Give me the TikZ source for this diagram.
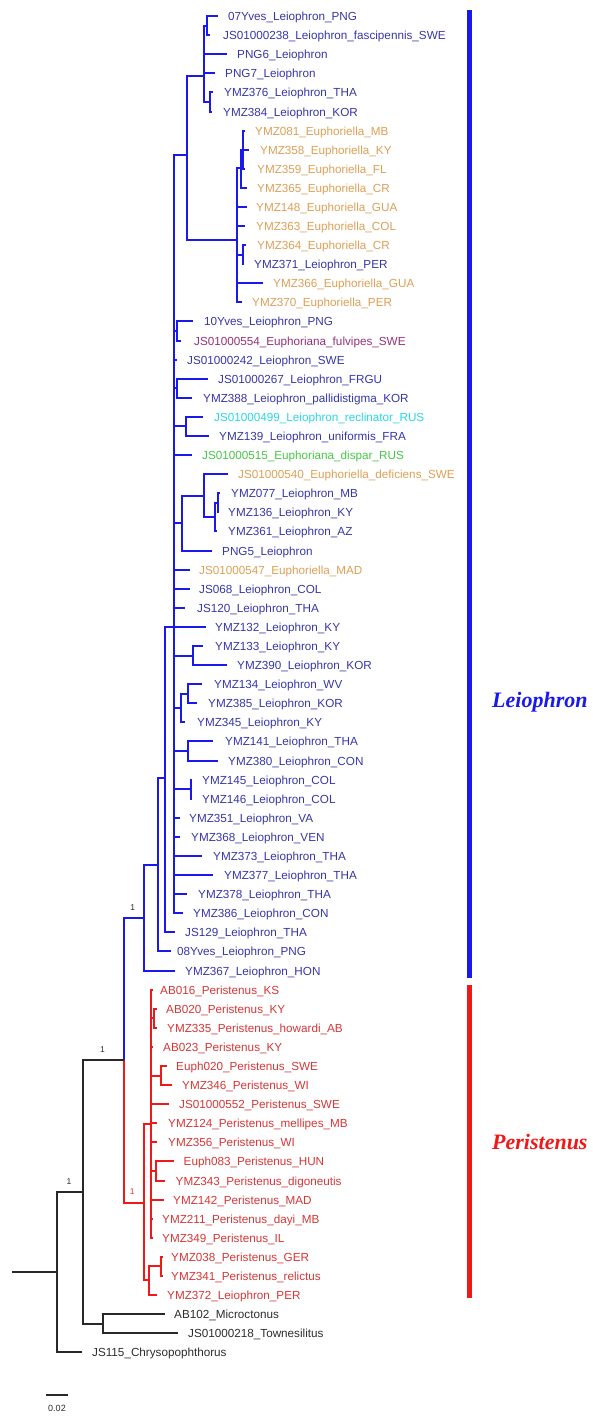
\documentclass[tikz,border=0pt]{standalone}
\usepackage{fontspec}
\setmainfont{Liberation Sans}
\newfontfamily\cladefont{Liberation Serif}
\definecolor{lb}{RGB}{25,25,235}
\definecolor{tb}{RGB}{55,55,170}
\definecolor{to}{RGB}{222,160,85}
\definecolor{tp}{RGB}{150,50,120}
\definecolor{tc}{RGB}{40,215,230}
\definecolor{tg}{RGB}{70,200,70}
\definecolor{lr}{RGB}{240,25,25}
\definecolor{tr}{RGB}{215,55,55}
\definecolor{lk}{RGB}{40,40,40}
\definecolor{tk}{RGB}{45,45,45}
\newcommand\labfont{\fontsize{11.7}{13}\selectfont}
\newcommand\tip[6]{%
  \coordinate (#1) at (#2,#3);
  \node[lab,text=#5] (l#1) at (#4,#3+4.2) {#6};}
\tikzset{
  lab/.style={anchor=base west,inner sep=0pt,font=\labfont},
  br/.style={line width=2pt},
  bb/.style={br,draw=lb},
  rb/.style={br,draw=lr},
  kb/.style={br,draw=lk},
  supp/.style={inner sep=0pt,font=\fontsize{8.5}{9}\selectfont},
  cladelab/.style={anchor=base west,inner sep=0pt,font=\cladefont\bfseries\itshape\fontsize{22}{24}\selectfont}
}
\begin{document}
\begin{tikzpicture}[x=1pt,y=-1pt]
\useasboundingbox (0,0) rectangle (592,1416);
\fill[white] (0,0) rectangle (592,1416);
% ---------- tips ----------
\tip{t1}{218}{16}{228}{tb}{07Yves\_Leiophron\_PNG}
\tip{t2}{210}{35}{223}{tb}{JS01000238\_Leiophron\_fascipennis\_SWE}
\tip{t3}{227}{54}{237}{tb}{PNG6\_Leiophron}
\tip{t4}{215}{73}{225}{tb}{PNG7\_Leiophron}
\tip{t5}{213}{92}{224}{tb}{YMZ376\_Leiophron\_THA}
\tip{t6}{212}{112}{223}{tb}{YMZ384\_Leiophron\_KOR}
\tip{t7}{245}{131}{255}{to}{YMZ081\_Euphoriella\_MB}
\tip{t8}{249}{150}{260}{to}{YMZ358\_Euphoriella\_KY}
\tip{t9}{245}{169}{257}{to}{YMZ359\_Euphoriella\_FL}
\tip{t10}{247}{188}{257}{to}{YMZ365\_Euphoriella\_CR}
\tip{t11}{247}{207}{256}{to}{YMZ148\_Euphoriella\_GUA}
\tip{t12}{245}{226}{256}{to}{YMZ363\_Euphoriella\_COL}
\tip{t13}{246}{245}{257}{to}{YMZ364\_Euphoriella\_CR}
\tip{t14}{244}{264}{254}{tb}{YMZ371\_Leiophron\_PER}
\tip{t15}{263}{283}{273}{to}{YMZ366\_Euphoriella\_GUA}
\tip{t16}{242}{302}{252}{to}{YMZ370\_Euphoriella\_PER}
\tip{t17}{193}{321}{204}{tb}{10Yves\_Leiophron\_PNG}
\tip{t18}{181}{341}{194}{tp}{JS01000554\_Euphoriana\_fulvipes\_SWE}
\tip{t19}{177}{360}{187}{tb}{JS01000242\_Leiophron\_SWE}
\tip{t20}{208}{379}{218}{tb}{JS01000267\_Leiophron\_FRGU}
\tip{t21}{192}{398}{203}{tb}{YMZ388\_Leiophron\_pallidistigma\_KOR}
\tip{t22}{203}{417}{214}{tc}{JS01000499\_Leiophron\_reclinator\_RUS}
\tip{t23}{209}{436}{219}{tb}{YMZ139\_Leiophron\_uniformis\_FRA}
\tip{t24}{192}{455}{202}{tg}{JS01000515\_Euphoriana\_dispar\_RUS}
\tip{t25}{228}{474}{238}{to}{JS01000540\_Euphoriella\_deficiens\_SWE}
\tip{t26}{220}{493}{231}{tb}{YMZ077\_Leiophron\_MB}
\tip{t27}{219}{512}{228}{tb}{YMZ136\_Leiophron\_KY}
\tip{t28}{217}{531}{228}{tb}{YMZ361\_Leiophron\_AZ}
\tip{t29}{212}{551}{222}{tb}{PNG5\_Leiophron}
\tip{t30}{190}{570}{199}{to}{JS01000547\_Euphoriella\_MAD}
\tip{t31}{190}{589}{199}{tb}{JS068\_Leiophron\_COL}
\tip{t32}{185}{608}{197}{tb}{JS120\_Leiophron\_THA}
\tip{t33}{206}{627}{215}{tb}{YMZ132\_Leiophron\_KY}
\tip{t34}{203}{646}{215}{tb}{YMZ133\_Leiophron\_KY}
\tip{t35}{227}{665}{237}{tb}{YMZ390\_Leiophron\_KOR}
\tip{t36}{202}{684}{214}{tb}{YMZ134\_Leiophron\_WV}
\tip{t37}{197}{703}{208}{tb}{YMZ385\_Leiophron\_KOR}
\tip{t38}{185}{722}{197}{tb}{YMZ345\_Leiophron\_KY}
\tip{t39}{213}{741}{225}{tb}{YMZ141\_Leiophron\_THA}
\tip{t40}{218}{761}{228}{tb}{YMZ380\_Leiophron\_CON}
\tip{t41}{192}{780}{202}{tb}{YMZ145\_Leiophron\_COL}
\tip{t42}{192}{799}{202}{tb}{YMZ146\_Leiophron\_COL}
\tip{t43}{180}{818}{189}{tb}{YMZ351\_Leiophron\_VA}
\tip{t44}{180}{837}{191}{tb}{YMZ368\_Leiophron\_VEN}
\tip{t45}{202}{856}{213}{tb}{YMZ373\_Leiophron\_THA}
\tip{t46}{213}{875}{224}{tb}{YMZ377\_Leiophron\_THA}
\tip{t47}{187}{894}{198}{tb}{YMZ378\_Leiophron\_THA}
\tip{t48}{183}{913}{193}{tb}{YMZ386\_Leiophron\_CON}
\tip{t49}{175}{932}{185}{tb}{JS129\_Leiophron\_THA}
\tip{t50}{171}{951}{177}{tb}{08Yves\_Leiophron\_PNG}
\tip{t51}{175}{971}{185}{tb}{YMZ367\_Leiophron\_HON}
\tip{t52}{153}{990}{160}{tr}{AB016\_Peristenus\_KS}
\tip{t53}{157}{1009}{166}{tr}{AB020\_Peristenus\_KY}
\tip{t54}{157}{1028}{167}{tr}{YMZ335\_Peristenus\_howardi\_AB}
\tip{t55}{153}{1047}{163}{tr}{AB023\_Peristenus\_KY}
\tip{t56}{167}{1066}{176}{tr}{Euph020\_Peristenus\_SWE}
\tip{t57}{172}{1085}{182}{tr}{YMZ346\_Peristenus\_WI}
\tip{t58}{169}{1104}{179}{tr}{JS01000552\_Peristenus\_SWE}
\tip{t59}{157}{1123}{168}{tr}{YMZ124\_Peristenus\_mellipes\_MB}
\tip{t60}{157}{1142}{168}{tr}{YMZ356\_Peristenus\_WI}
\tip{t61}{174}{1161}{183.5}{tr}{Euph083\_Peristenus\_HUN}
\tip{t62}{165}{1181}{175.5}{tr}{YMZ343\_Peristenus\_digoneutis}
\tip{t63}{164}{1200}{173}{tr}{YMZ142\_Peristenus\_MAD}
\tip{t64}{153}{1219}{162}{tr}{YMZ211\_Peristenus\_dayi\_MB}
\tip{t65}{153}{1238}{162}{tr}{YMZ349\_Peristenus\_IL}
\tip{t66}{163}{1257}{171}{tr}{YMZ038\_Peristenus\_GER}
\tip{t67}{163}{1276}{171}{tr}{YMZ341\_Peristenus\_relictus}
\tip{t68}{157}{1295}{167}{tr}{YMZ372\_Leiophron\_PER}
\tip{t69}{165}{1314}{174}{tk}{AB102\_Microctonus}
\tip{t70}{178}{1333}{188}{tk}{JS01000218\_Townesilitus}
\tip{t71}{82}{1352}{92}{tk}{JS115\_Chrysopophthorus}
% ---------- internal nodes ----------
\coordinate (N1) at (207,26);
\coordinate (N2) at (210,102);
\coordinate (T1) at (204,76);
\coordinate (E) at (187,155);
\coordinate (EU) at (237,240);
\coordinate (Ea) at (241,168);
\coordinate (Eb) at (243,150);
\coordinate (Ec) at (243,255);
\coordinate (L4) at (174,627);
\coordinate (Y1) at (177,331);
\coordinate (Y2) at (177,388);
\coordinate (Y3) at (186,426);
\coordinate (Y4) at (182,523);
\coordinate (Y5) at (204,496);
\coordinate (Y6) at (215,517);
\coordinate (Y7) at (218,503);
\coordinate (Y8) at (193,656);
\coordinate (Y9) at (181,708);
\coordinate (Y10) at (188,694);
\coordinate (Y11) at (188,751);
\coordinate (Y12) at (191,789);
\coordinate (L3) at (165,778);
\coordinate (L2) at (158,865);
\coordinate (L1) at (144,918);
\coordinate (L0) at (124,1060);
\coordinate (P) at (144,1203);
\coordinate (P1) at (151,1124);
\coordinate (Pa) at (154,1018);
\coordinate (Pb) at (161,1076);
\coordinate (Pc) at (156,1171);
\coordinate (P2) at (149,1280);
\coordinate (Pd) at (161,1266);
\coordinate (R3) at (103,1324);
\coordinate (R2) at (83,1192);
\coordinate (R1) at (57,1272);
\coordinate (root) at (12,1272);
% ---------- blue branches ----------
\foreach \a/\b in {T1/N1,N1/t1,N1/t2,T1/t3,T1/t4,T1/N2,N2/t5,N2/t6,
  E/T1,E/EU,EU/Ea,Ea/Eb,Eb/t7,Eb/t8,Eb/t9,Ea/t10,EU/t11,EU/t12,EU/Ec,Ec/t13,Ec/t14,EU/t15,EU/t16,
  L4/E,L4/Y1,L4/t19,L4/Y2,L4/Y3,L4/t24,L4/Y4,L4/t30,L4/t31,L4/t32,L4/t33,L4/Y8,L4/Y9,L4/Y11,L4/Y12,
  L4/t43,L4/t44,L4/t45,L4/t46,L4/t47,L4/t48,
  Y1/t17,Y1/t18,Y2/t20,Y2/t21,Y3/t22,Y3/t23,Y4/Y5,Y4/t29,Y5/t25,Y5/Y6,Y6/Y7,Y6/t28,Y7/t26,Y7/t27,
  Y8/t34,Y8/t35,Y9/Y10,Y9/t38,Y10/t36,Y10/t37,Y11/t39,Y11/t40,Y12/t41,Y12/t42,
  L3/L4,L3/t49,L2/L3,L2/t50,L1/L2,L1/t51,L0/L1}
  \draw[bb] (\a) |- (\b);
% ---------- red branches ----------
\foreach \a/\b in {L0/P,P/P1,P/P2,P1/t52,P1/Pa,Pa/t53,Pa/t54,P1/t55,P1/Pb,Pb/t56,Pb/t57,
  P1/t58,P1/t59,P1/t60,P1/Pc,Pc/t61,Pc/t62,P1/t63,P1/t64,P1/t65,P2/Pd,Pd/t66,Pd/t67,P2/t68}
  \draw[rb] (\a) |- (\b);
% ---------- black branches ----------
\draw[kb] (root) -- (R1);
\foreach \a/\b in {R1/R2,R1/t71,R2/L0,R2/R3,R3/t69,R3/t70}
  \draw[kb] (\a) |- (\b);
% ---------- support values ----------
\node[supp,text=tk] (s1) at (132.7,908) {1};
\node[supp,text=tk] (s2) at (102.5,1050) {1};
\node[supp,text=tk] (s3) at (69,1182) {1};
\node[supp,text=tr] (s4) at (132.3,1191.5) {1};
% ---------- scale bar ----------
\coordinate (sb1) at (46,1395);
\coordinate (sb2) at (68,1395);
\draw[line width=1.4pt,draw=lk] (sb1) -- (sb2);
\node[inner sep=0pt,font=\fontsize{9}{10}\selectfont,text=tk] (sbl) at (57,1408) {0.02};
% ---------- clade bars ----------
\coordinate (ba1) at (469.5,10);
\coordinate (ba2) at (469.5,978);
\coordinate (bb1) at (469.5,985);
\coordinate (bb2) at (469.5,1298);
\draw[line width=5pt,draw=lb] (ba1) -- (ba2);
\draw[line width=5pt,draw=lr] (bb1) -- (bb2);
\node[cladelab,text=lb] (cl1) at (492,707) {Leiophron};
\node[cladelab,text=lr] (cl2) at (492,1149) {Peristenus};
\end{tikzpicture}
\end{document}
